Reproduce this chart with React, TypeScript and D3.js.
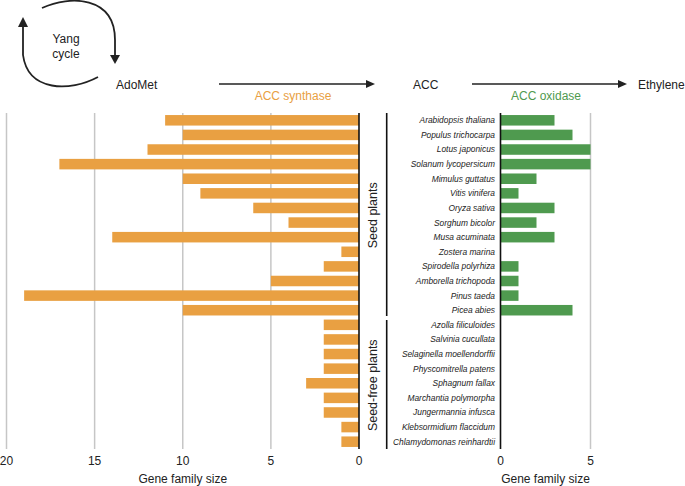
import React from 'react';
import * as d3 from 'd3';

// species in plot order (top to bottom)
const species = [
  'Arabidopsis thaliana',
  'Populus trichocarpa',
  'Lotus japonicus',
  'Solanum lycopersicum',
  'Mimulus guttatus',
  'Vitis vinifera',
  'Oryza sativa',
  'Sorghum bicolor',
  'Musa acuminata',
  'Zostera marina',
  'Spirodella polyrhiza',
  'Amborella trichopoda',
  'Pinus taeda',
  'Picea abies',
  'Azolla filiculoides',
  'Salvinia cucullata',
  'Selaginella moellendorffii',
  'Physcomitrella patens',
  'Sphagnum fallax',
  'Marchantia polymorpha',
  'Jungermannia infusca',
  'Klebsormidium flaccidum',
  'Chlamydomonas reinhardtii',
];
const accSynthase = [11, 10, 12, 17, 10, 9, 6, 4, 14, 1, 2, 5, 19, 10, 2, 2, 2, 2, 3, 2, 2, 1, 1];
const accOxidase = [3, 4, 5, 5, 2, 1, 3, 2, 3, 0, 1, 1, 1, 4, 0, 0, 0, 0, 0, 0, 0, 0, 0];
const seedCount = 14;
const leftTicks = [20, 15, 10, 5, 0];
const rightTicks = [0, 5];

const ORANGE = '#E9A042';
const GREEN = '#4F9A4F';
const GRID = '#c6c6c6';
const FONT = '"Liberation Sans", Arial, Helvetica, sans-serif';

const App = () => {
  const width = 685;
  const height = 486;
  const top = 113;
  const bottom = 449;

  const y = d3.scaleBand<string>().domain(species).range([top, bottom]).paddingInner(0.28).paddingOuter(0.14);
  const xL = d3.scaleLinear().domain([0, 20]).range([359, 6.5]);
  const xR = d3.scaleLinear().domain([0, 5]).range([500.5, 590.5]);

  const step = y.step();
  const boundary = top + step * seedCount;
  const bracketX = 386.7;

  return (
    <svg width={width} height={height} style={{ position: 'absolute', left: 0, top: 0, fontFamily: FONT }}>
      <defs>
        <marker id="ah" viewBox="0 0 10 10" refX="9" refY="5" markerWidth="5" markerHeight="5" orient="auto-start-reverse" markerUnits="userSpaceOnUse">
          <path d="M0,0 L10,5 L0,10 z" fill="#222" />
        </marker>
      </defs>
      <rect width={width} height={height} fill="#fff" />

      {/* Yang cycle */}
      <g fill="none" stroke="#222" strokeWidth={1.8}>
        <path d="M42,8 C70,-5 115,-4 115,40 L115,56" />
        <path d="M98,77 C70,92 28,92 23,55 L23,26" />
      </g>
      <path d="M110,55 L120,55 L115,64 z" fill="#222" />
      <path d="M18,27 L28,27 L23,17 z" fill="#222" />
      <text x={66} y={42.5} fontSize={12} textAnchor="middle" fill="#222">Yang</text>
      <text x={66} y={57.5} fontSize={12} textAnchor="middle" fill="#222">cycle</text>

      {/* pathway */}
      <text x={116} y={88.5} fontSize={12} fill="#222">AdoMet</text>
      <line x1={219} x2={368} y1={84} y2={84} stroke="#222" strokeWidth={1.6} />
      <path d="M366,80 L375,84 L366,88 z" fill="#222" />
      <text x={293} y={99.5} fontSize={12} textAnchor="middle" fill={ORANGE}>ACC synthase</text>
      <text x={413} y={88.5} fontSize={12} fill="#222">ACC</text>
      <line x1={472} x2={620} y1={84} y2={84} stroke="#222" strokeWidth={1.6} />
      <path d="M618,80 L627,84 L618,88 z" fill="#222" />
      <text x={546} y={99.5} fontSize={12} textAnchor="middle" fill={GREEN}>ACC oxidase</text>
      <text x={638} y={88.5} fontSize={12} fill="#222">Ethylene</text>

      {/* left grid */}
      {leftTicks.filter((t) => t !== 0).map((t) => (
        <line key={'gl' + t} x1={xL(t)} x2={xL(t)} y1={top} y2={bottom} stroke={GRID} strokeWidth={1.5} />
      ))}
      {/* right grid */}
      {rightTicks.filter((t) => t !== 0).map((t) => (
        <line key={'gr' + t} x1={xR(t)} x2={xR(t)} y1={top} y2={bottom} stroke={GRID} strokeWidth={1.5} />
      ))}

      {/* ACC synthase bars */}
      {species.map((s, i) => (
        <rect key={'l' + s} x={xL(accSynthase[i])} y={y(s)} width={xL(0) - xL(accSynthase[i])} height={y.bandwidth()} fill={ORANGE} />
      ))}
      {/* ACC oxidase bars */}
      {species.map((s, i) =>
        accOxidase[i] > 0 ? (
          <rect key={'r' + s} x={xR(0)} y={y(s)} width={xR(accOxidase[i]) - xR(0)} height={y.bandwidth()} fill={GREEN} />
        ) : null
      )}

      {/* zero axes */}
      <line x1={xL(0)} x2={xL(0)} y1={top} y2={bottom} stroke="#111" strokeWidth={1.6} />
      <line x1={xR(0)} x2={xR(0)} y1={top} y2={bottom} stroke="#111" strokeWidth={1.6} />

      {/* species labels */}
      {species.map((s) => (
        <text key={'t' + s} x={495} y={(y(s) as number) + y.bandwidth() / 2} dy="0.35em" fontSize={8.4} fontStyle="italic" textAnchor="end" fill="#222">
          {s}
        </text>
      ))}

      {/* group brackets */}
      <line x1={bracketX} x2={bracketX} y1={top} y2={boundary - 1.5} stroke="#111" strokeWidth={1.6} />
      <line x1={bracketX} x2={bracketX} y1={boundary + 2.5} y2={bottom} stroke="#111" strokeWidth={1.6} />
      <text transform={`translate(377,${(top + boundary) / 2}) rotate(-90)`} fontSize={12.5} textAnchor="middle" fill="#222">Seed plants</text>
      <text transform={`translate(377,${(boundary + bottom) / 2 + 2}) rotate(-90)`} fontSize={12.5} textAnchor="middle" fill="#222">Seed-free plants</text>

      {/* tick labels */}
      {leftTicks.map((t) => (
        <text key={'lt' + t} x={xL(t)} y={464.5} fontSize={12} textAnchor="middle" fill="#222">{t}</text>
      ))}
      {rightTicks.map((t) => (
        <text key={'rt' + t} x={xR(t)} y={464.5} fontSize={12} textAnchor="middle" fill="#222">{t}</text>
      ))}
      <text x={xL(10)} y={483} fontSize={12} textAnchor="middle" fill="#222">Gene family size</text>
      <text x={xR(2.5)} y={483} fontSize={12} textAnchor="middle" fill="#222">Gene family size</text>
    </svg>
  );
};

export default App;
